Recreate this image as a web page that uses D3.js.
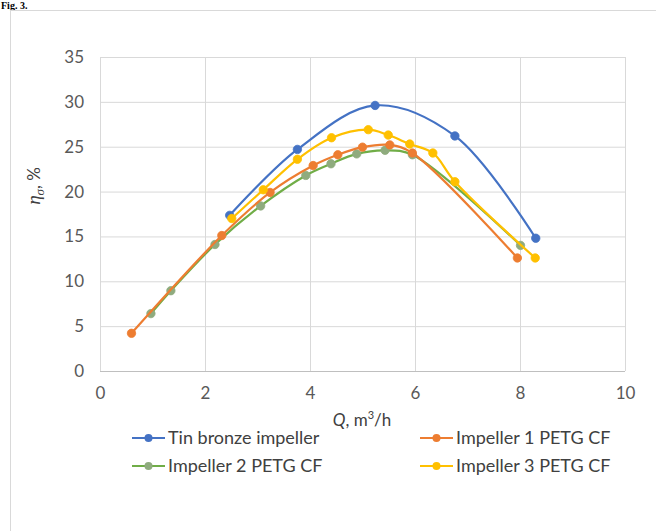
<!DOCTYPE html>
<html><head><meta charset="utf-8">
<script src="https://cdn.jsdelivr.net/npm/d3@7"></script>
<style>body{margin:0;background:#fff;} svg{display:block;}</style>
</head><body>
<script>
const xTicks = [0, 2, 4, 6, 8, 10];
const yTicks = [0, 5, 10, 15, 20, 25, 30, 35];
const seriesNames = ["Tin bronze impeller", "Impeller 1 PETG CF", "Impeller 2 PETG CF", "Impeller 3 PETG CF"];
const tinBronze = [[2.47,17.35],[3.76,24.7],[5.24,29.6],[6.76,26.2],[8.30,14.8]];
const impeller1 = [[0.60,4.2],[2.32,15.1],[3.24,19.9],[4.06,22.9],[4.53,24.1],[5.0,24.95],[5.52,25.2],[5.95,24.3],[7.95,12.6]];
const impeller2 = [[0.97,6.4],[1.35,8.95],[2.19,14.1],[3.06,18.4],[3.92,21.8],[4.40,23.1],[4.89,24.2],[5.43,24.6],[5.95,24.1],[8.01,14.0]];
const impeller3 = [[2.51,17.0],[3.11,20.2],[3.76,23.6],[4.41,26.0],[5.11,26.9],[5.49,26.3],[5.90,25.3],[6.34,24.3],[6.76,21.1],[8.29,12.6]];

const W = 656, H = 531;
const svg = d3.select("body").append("svg").attr("width", W).attr("height", H);
const font = "Lato, 'Open Sans', sans-serif";

svg.append("text").attr("x", 1).attr("y", 9).attr("font-family", "'Liberation Serif', serif")
  .attr("font-size", 10).attr("font-weight", "bold").attr("fill", "#000").text("Fig. 3.");
svg.append("rect").attr("x", 10.5).attr("y", 10.5).attr("width", 700).attr("height", 600)
  .attr("fill", "none").attr("stroke", "#d9d9d9");

const x = d3.scaleLinear().domain([0, 10]).range([100, 625]);
const y = d3.scaleLinear().domain([0, 35]).range([371, 57]);

const g = svg.append("g");
g.selectAll(".vg").data(xTicks).enter().append("line")
  .attr("x1", d => x(d) + 0.5).attr("x2", d => x(d) + 0.5).attr("y1", y(35)).attr("y2", y(0))
  .attr("stroke", "#d9d9d9").attr("stroke-width", 1);
g.selectAll(".hg").data(yTicks).enter().append("line")
  .attr("x1", x(0)).attr("x2", x(10)).attr("y1", d => y(d) + 0.5).attr("y2", d => y(d) + 0.5)
  .attr("stroke", d => d === 0 ? "#bfbfbf" : "#d9d9d9").attr("stroke-width", 1);

const xAxis = svg.append("g").attr("transform", `translate(0,${y(0)})`)
  .call(d3.axisBottom(x).tickValues(xTicks).tickSize(0).tickPadding(16));
const yAxis = svg.append("g").attr("transform", `translate(${x(0)},0)`)
  .call(d3.axisLeft(y).tickValues(yTicks).tickSize(0).tickPadding(16));
[xAxis, yAxis].forEach(a => {
  a.select(".domain").remove();
  a.selectAll("text").attr("font-family", font).attr("font-size", 17).attr("fill", "#595959");
});

const xt = svg.append("text").attr("x", 362).attr("y", 426).attr("text-anchor", "middle")
  .attr("font-family", font).attr("font-size", 17).attr("fill", "#404040");
xt.append("tspan").attr("font-style", "italic").text("Q");
xt.append("tspan").text(", m");
xt.append("tspan").attr("font-size", 11).attr("dy", -7).text("3");
xt.append("tspan").attr("dy", 7).text("/h");

const yt = svg.append("text").attr("transform", "translate(40,186) rotate(-90)").attr("text-anchor", "middle")
  .attr("font-family", font).attr("font-size", 17).attr("fill", "#404040");
yt.append("tspan").attr("font-style", "italic").attr("font-family", "'Liberation Serif', serif").attr("font-size", 19).text("η");
yt.append("tspan").attr("font-style", "italic").attr("font-family", "'Liberation Serif', serif").attr("font-size", 13).attr("dy", 4).text("σ");
yt.append("tspan").attr("dy", -4).text(", %");

const series = [
  {name: seriesNames[0], data: tinBronze, line: "#4472C4", fill: "#4472C4"},
  {name: seriesNames[1], data: impeller1, line: "#ED7D31", fill: "#ED7D31"},
  {name: seriesNames[2], data: impeller2, line: "#70AD47", fill: "#8FAB7E"},
  {name: seriesNames[3], data: impeller3, line: "#FFC000", fill: "#FFC000"}
];
const lineGen = d3.line().x(d => x(d[0])).y(d => y(d[1])).curve(d3.curveCatmullRom.alpha(0.5));
const drawOrder = [0, 2, 1, 3];
drawOrder.forEach(i => {
  const s = series[i];
  const sg = svg.append("g");
  sg.append("path").attr("d", lineGen(s.data)).attr("fill", "none").attr("stroke", s.line).attr("stroke-width", 2.2);
  sg.selectAll("circle").data(s.data).enter().append("circle")
    .attr("cx", d => x(d[0])).attr("cy", d => y(d[1])).attr("r", 4.2)
    .attr("fill", s.fill).attr("stroke", s.fill).attr("stroke-width", 0.8);
});

const legPos = [[132, 438], [420, 438], [132, 466], [420, 466]];
series.forEach((s, i) => {
  const [lx, ly] = legPos[i];
  const lg = svg.append("g");
  lg.append("line").attr("x1", lx).attr("x2", lx + 33).attr("y1", ly).attr("y2", ly)
    .attr("stroke", s.line).attr("stroke-width", 2.2);
  lg.append("circle").attr("cx", lx + 16.5).attr("cy", ly).attr("r", 4).attr("fill", s.fill);
  lg.append("text").attr("x", lx + 36).attr("y", ly + 6).attr("font-family", font)
    .attr("font-size", 18).attr("fill", "#404040").text(s.name);
});
</script>
</body></html>
